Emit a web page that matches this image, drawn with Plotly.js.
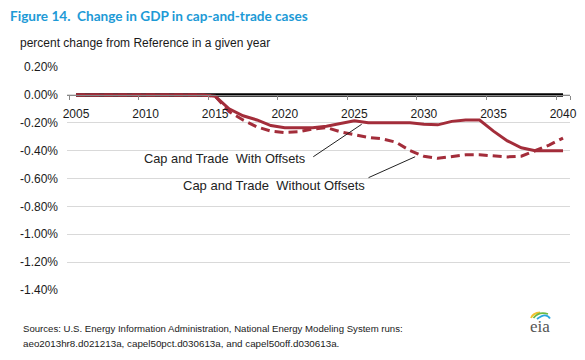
<!DOCTYPE html>
<html>
<head>
<meta charset="utf-8">
<script src="https://cdn.plot.ly/plotly-3.0.1.min.js"></script>
<style>html,body{margin:0;padding:0;background:#fff;}#chart{width:585px;height:360px;}</style>
</head>
<body>
<div id="chart"></div>
<script>
// ---- data ----
const years = [2005,2006,2007,2008,2009,2010,2011,2012,2013,2014,2015,2016,2017,2018,2019,2020,
               2021,2022,2023,2024,2025,2026,2027,2028,2029,2030,2031,2032,2033,2034,2035,2036,2037,2038,2039,2040];
const reference = years.map(() => 0);
const withOffsets = [0,0,0,0,0,0,0,0,0,0,-0.01,-0.10,-0.15,-0.18,-0.22,-0.235,
                     -0.235,-0.235,-0.225,-0.205,-0.185,-0.20,-0.20,-0.20,-0.20,-0.21,-0.215,-0.19,-0.18,-0.18,-0.26,-0.33,-0.38,-0.40,-0.40,-0.40];
const withoutOffsets = [0,0,0,0,0,0,0,0,0,0,-0.01,-0.12,-0.18,-0.23,-0.26,-0.27,
                        -0.265,-0.245,-0.235,-0.265,-0.285,-0.305,-0.315,-0.34,-0.40,-0.44,-0.455,-0.44,-0.43,-0.43,-0.435,-0.445,-0.44,-0.40,-0.36,-0.31];
const xTickYears = [2005,2010,2015,2020,2025,2030,2035,2040];
const xTickLabels = ['2005','2010','2015','2020','2025','2030','2035','2040'];
const yTickVals = [0.2,0,-0.2,-0.4,-0.6,-0.8,-1.0,-1.2,-1.4];
const yTickLabels = ['0.20%','0.00%','-0.20%','-0.40%','-0.60%','-0.80%','-1.00%','-1.20%','-1.40%'];
const seriesNames = ['Cap and Trade\u00a0 With Offsets','Cap and Trade\u00a0 Without Offsets'];

// ---- layout helpers ----
const W = 585, H = 360, L = 67, R = 15, T = 67, B = 70;
const pw = W - L - R, ph = H - T - B;
const px = v => (v - L) / pw;          // pixel x -> paper x
const py = v => (H - B - v) / ph;      // pixel y -> paper y
const red = '#a32d3a';
const txt = '#1a1a1a';
const font = 'Liberation Sans, Arial, sans-serif';

const traces = [
  {x: years, y: reference, type: 'scatter', mode: 'lines', line: {color: '#000', width: 3.5}, hoverinfo: 'skip', showlegend: false},
  {x: years, y: withoutOffsets, type: 'scatter', mode: 'lines', name: seriesNames[1], line: {color: red, width: 3, dash: '9px,5px'}, showlegend: false},
  {x: years, y: withOffsets, type: 'scatter', mode: 'lines', name: seriesNames[0], line: {color: red, width: 3}, showlegend: false},
  {x: [2004.5, 2040.5], y: [0, 0], xaxis: 'x2', type: 'scatter', mode: 'lines', line: {width: 0}, opacity: 0, hoverinfo: 'skip', showlegend: false}
];

const xr = [2004.35, 2040.5];
const zeroPos = 1.4 / 1.6;
const tickBounds = xTickYears.map(y => y - 0.5).concat([2040.5]);

const layout = {
  width: W, height: H,
  margin: {l: L, r: R, t: T, b: B},
  paper_bgcolor: '#fff', plot_bgcolor: '#fff',
  font: {family: font, size: 12, color: txt},
  title: {
    text: '<b>Figure 14.  Change in GDP in cap-and-trade cases</b>',
    font: {family: 'Lato, Open Sans, sans-serif', size: 13.6, color: '#1d9ad6'},
    x: 10 / W, xanchor: 'left', xref: 'container',
    y: 1 - 16 / H, yanchor: 'middle', yref: 'container'
  },
  xaxis: {
    range: xr, anchor: 'free', position: zeroPos,
    tickmode: 'array', tickvals: xTickYears, ticktext: xTickLabels,
    ticks: 'outside', ticklen: 8, tickcolor: 'rgba(0,0,0,0)',
    showline: false, showgrid: false, zeroline: false,
    tickfont: {family: font, size: 12, color: txt}
  },
  xaxis2: {
    range: xr, overlaying: 'x', anchor: 'free', position: zeroPos,
    tickmode: 'array', tickvals: tickBounds, showticklabels: false,
    ticks: 'outside', ticklen: 4, tickcolor: '#888', tickwidth: 1,
    showline: true, linecolor: '#888', linewidth: 1,
    showgrid: false, zeroline: false
  },
  yaxis: {
    range: [-1.4, 0.2],
    tickmode: 'array', tickvals: yTickVals, ticktext: yTickLabels,
    showgrid: true, gridcolor: '#d9d9d9', gridwidth: 1,
    zeroline: false, showline: false, ticks: '',
    ticklabelstandoff: 8,
    tickfont: {family: font, size: 12, color: txt}
  },
  shapes: [
    // leader lines
    {type: 'line', xref: 'x', yref: 'y', x0: 2022.05, y0: -0.444, x1: 2025.53, y1: -0.211, line: {color: '#222', width: 1}},
    {type: 'line', xref: 'x', yref: 'y', x0: 2026.02, y0: -0.594, x1: 2029.37, y1: -0.444, line: {color: '#222', width: 1}},
    // eia logo arcs
    {type: 'path', xref: 'paper', yref: 'paper', path: `M ${px(531)} ${py(318)} Q ${px(533)} ${py(313)} ${px(540)} ${py(312.5)}`, line: {color: '#f2c230', width: 1.8}},
    {type: 'path', xref: 'paper', yref: 'paper', path: `M ${px(533.5)} ${py(318)} Q ${px(539)} ${py(311)} ${px(548)} ${py(314)}`, line: {color: '#6dbb45', width: 1.8}},
    {type: 'path', xref: 'paper', yref: 'paper', path: `M ${px(537)} ${py(319)} Q ${px(546)} ${py(312)} ${px(550)} ${py(318.5)}`, line: {color: '#2aa7df', width: 1.8}}
  ],
  annotations: [
    {text: seriesNames[0], xref: 'x', yref: 'y', x: 2021.58, y: -0.455, xanchor: 'right', yanchor: 'middle', showarrow: false, font: {family: font, size: 12.8, color: '#222'}},
    {text: seriesNames[1], xref: 'x', yref: 'y', x: 2025.89, y: -0.647, xanchor: 'right', yanchor: 'middle', showarrow: false, font: {family: font, size: 13, color: '#222'}},
    {text: 'percent change from Reference in a given year', xref: 'paper', yref: 'paper', x: px(18), y: py(43), xanchor: 'left', yanchor: 'middle', showarrow: false, font: {family: font, size: 12, color: txt}},
    {text: 'Sources: U.S. Energy Information Administration, National Energy Modeling System runs:', xref: 'paper', yref: 'paper', x: px(21), y: py(328), xanchor: 'left', yanchor: 'middle', showarrow: false, font: {family: font, size: 9.6, color: txt}},
    {text: 'aeo2013hr8.d021213a, capel50pct.d030613a, and capel50off.d030613a.', xref: 'paper', yref: 'paper', x: px(21), y: py(343), xanchor: 'left', yanchor: 'middle', showarrow: false, font: {family: font, size: 9.8, color: txt}},
    {text: 'eia', xref: 'paper', yref: 'paper', x: px(540), y: py(326), xanchor: 'center', yanchor: 'middle', showarrow: false, font: {family: 'Liberation Serif, DejaVu Serif, serif', size: 17, color: '#555'}}
  ]
};

Plotly.newPlot('chart', traces, layout, {displayModeBar: false, staticPlot: true});
</script>
</body>
</html>
